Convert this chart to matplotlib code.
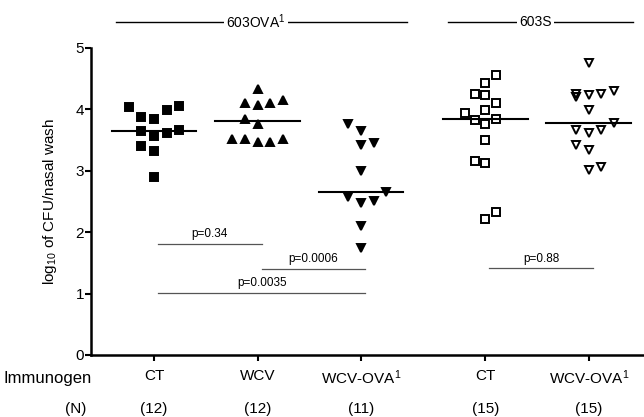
import numpy as np
import matplotlib.pyplot as plt

plt.rcParams['font.family'] = ['Liberation Sans', 'DejaVu Sans']
plt.rcParams['mathtext.fontset'] = 'custom'
plt.rcParams['mathtext.rm'] = 'Liberation Sans'
plt.rcParams['mathtext.it'] = 'Liberation Sans'

# groups along the x axis
groups = ['CT', 'WCV', 'WCV-OVA$^1$', 'CT', 'WCV-OVA$^1$']
counts = ['(12)', '(12)', '(11)', '(15)', '(15)']
xpos = [1, 2, 3, 4.2, 5.2]

# log10 CFU per nasal wash, with the column slot of each dot
ct_ova = [4.04, 3.88, 3.85, 3.99, 4.06, 3.64, 3.57, 3.61, 3.66, 3.40, 3.32, 2.90]
ct_ova_slot = [-2, -1, 0, 1, 2, -1, 0, 1, 2, -1, 0, 0]
wcv_ova = [4.33, 4.11, 4.07, 4.11, 4.15, 3.85, 3.76, 3.51, 3.51, 3.47, 3.47, 3.51]
wcv_ova_slot = [0, -1, 0, 1, 2, -1, 0, -2, -1, 0, 1, 2]
wcvova_ova = [3.77, 3.64, 3.42, 3.46, 2.99, 2.57, 2.47, 2.50, 2.66, 2.10, 1.74]
wcvova_ova_slot = [-1, 0, 0, 1, 0, -1, 0, 1, 2, 0, 0]
ct_s = [4.56, 4.43, 4.25, 4.23, 4.11, 3.99, 3.94, 3.83, 3.77, 3.85, 3.50,
        3.16, 3.13, 2.33, 2.21]
ct_s_slot = [1, 0, -1, 0, 1, 0, -2, -1, 0, 1, 0, -1, 0, 1, 0]
wcvova_s = [4.75, 4.25, 4.20, 4.23, 4.25, 4.30, 3.99, 3.78, 3.66, 3.62, 3.66,
            3.42, 3.34, 3.01, 3.06]
wcvova_s_slot = [0, -1, -1, 0, 1, 2, 0, 2, -1, 0, 1, -1, 0, 0, 1]

# p-value brackets: label, from group, to group, height
pvals = [('p=0.34', 0, 1, 1.81),
         ('p=0.0006', 1, 2, 1.40),
         ('p=0.0035', 0, 2, 1.01),
         ('p=0.88', 3, 4, 1.41)]

# strain headers: label, left end, right end
headers = [('603OVA$^1$', 0.63, 3.44), ('603S', 3.84, 5.63)]

series = [(ct_ova, ct_ova_slot, 's', 'black', 0.123),
          (wcv_ova, wcv_ova_slot, '^', 'black', 0.123),
          (wcvova_ova, wcvova_ova_slot, 'v', 'black', 0.123),
          (ct_s, ct_s_slot, 's', 'none', 0.10),
          (wcvova_s, wcvova_s_slot, 'v', 'none', 0.123)]

fig = plt.figure(figsize=(6.44, 4.17), dpi=100)
ax = fig.add_axes([0.1413, 0.1487, 0.8587, 0.7362])

for i, (vals, slot, mk, fc, step) in enumerate(series):
    xs = xpos[i] + np.array(slot) * step
    ax.plot(xs, vals, linestyle='none', marker=mk, markersize=6,
            markerfacecolor=fc, markeredgecolor='black', markeredgewidth=1.4,
            zorder=3)
    med = np.median(vals)
    ax.plot([xpos[i] - 0.41, xpos[i] + 0.41], [med, med], color='black',
            linewidth=1.5, zorder=2)

for lab, a, b, h in pvals:
    x1, x2 = xpos[a] + 0.04, xpos[b] + 0.04
    ax.plot([x1, x2], [h, h], color='#555555', linewidth=0.9)
    ax.text((x1 + x2) / 2, h + 0.06, lab, ha='center', va='bottom',
            fontsize=8.5)

for lab, a, b in headers:
    ax.plot([a, b], [5.43, 5.43], color='black', linewidth=1.0, clip_on=False)
    ax.text((a + b) / 2 - 0.05, 5.43, lab, ha='center', va='center',
            fontsize=10, clip_on=False,
            bbox=dict(facecolor='white', edgecolor='none', pad=1.5))

ax.set_xlim(0.391, 5.734)
ax.set_ylim(0, 5)
ax.set_yticks([0, 1, 2, 3, 4, 5])
ax.set_xticks(xpos)
ax.set_xticklabels(groups, fontsize=11)
ax.tick_params(axis='both', direction='out', length=4, width=1.5)
ax.tick_params(axis='x', pad=6)
ax.tick_params(axis='y', labelsize=11, pad=1)
for s in ['top', 'right']:
    ax.spines[s].set_visible(False)
for s in ['left', 'bottom']:
    ax.spines[s].set_linewidth(1.8)

ax.set_ylabel('log$_{10}$ of CFU/nasal wash', fontsize=11, labelpad=12)

trans = ax.get_xaxis_transform()
for x, n in zip(xpos, counts):
    ax.text(x, -0.175, n, transform=trans, ha='center', va='center',
            fontsize=11)
ax.text(0.245, -0.175, '(N)', transform=trans, ha='center', va='center',
        fontsize=11)
ax.text(-0.45, -0.078, 'Immunogen', transform=trans, ha='left', va='center',
        fontsize=12)

fig.savefig('out.png', dpi=100)
